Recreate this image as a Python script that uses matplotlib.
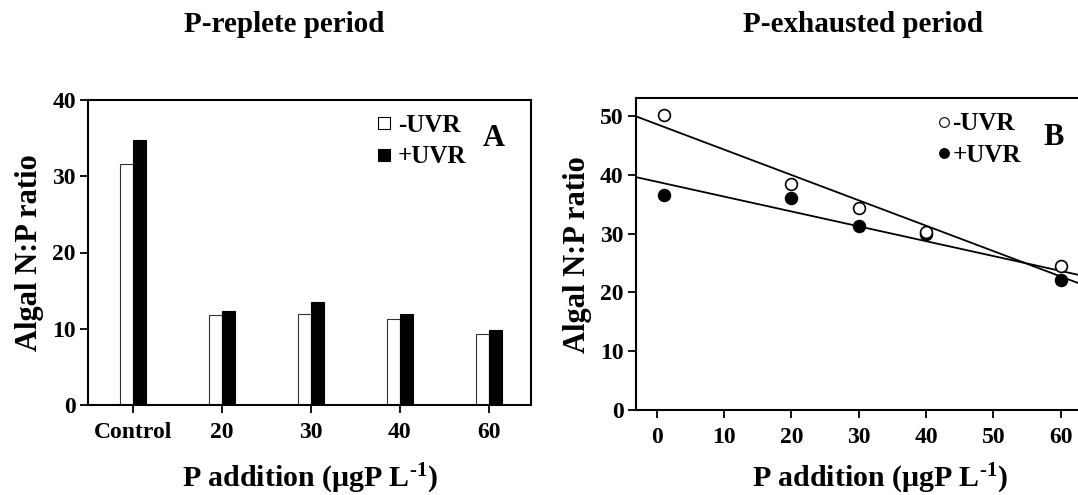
import matplotlib

matplotlib.use("Agg")
import matplotlib.pyplot as plt
import numpy as np
from matplotlib.lines import Line2D

plt.rcParams["font.family"] = ["Liberation Serif", "DejaVu Serif"]
plt.rcParams["font.weight"] = "bold"
plt.rcParams["axes.labelweight"] = "bold"
plt.rcParams["mathtext.fontset"] = "custom"
plt.rcParams["mathtext.rm"] = "Liberation Serif:bold"
plt.rcParams["mathtext.bf"] = "Liberation Serif:bold"
plt.rcParams["mathtext.default"] = "rm"

# panel A: bar chart, P-replete period
categories = ["Control", "20", "30", "40", "60"]
minus_uvr_a = [31.6, 11.8, 11.9, 11.3, 9.3]
plus_uvr_a = [34.8, 12.3, 13.5, 11.9, 9.9]

# panel B: scatter + linear fit, P-exhausted period
p_add = [1, 20, 30, 40, 60]
minus_uvr_b = [50.2, 38.4, 34.4, 30.3, 24.5]
plus_uvr_b = [36.6, 36.0, 31.3, 29.9, 22.1]

W, H = 1078, 495
fig = plt.figure(figsize=(W / 100, H / 100), dpi=100)

xlab = r"P addition (μgP L$^{\text{-}1}$)"
ylab = "Algal N:P ratio"
tick_fs = 17

# ---- A ----
axA = fig.add_axes([88.3 / W, 1 - 405 / H, (531 - 88.3) / W, (405 - 100) / H])
x = np.arange(len(categories))
bw = 0.145
axA.bar(x - bw / 2, minus_uvr_a, bw, color="white", edgecolor="#333333", linewidth=0.8, zorder=2)
axA.bar(x + bw / 2, plus_uvr_a, bw, color="black", edgecolor="black", linewidth=0.8, zorder=2)
axA.set_xlim(-0.5, 4.475)
axA.set_ylim(0, 40)
axA.set_yticks([0, 10, 20, 30, 40])
axA.set_xticks(x)
axA.set_xticklabels(categories)
axA.tick_params(axis="x", direction="out", length=6, width=1.3, labelsize=tick_fs, pad=6)
axA.tick_params(axis="y", direction="out", length=6, width=1.3, labelsize=tick_fs, pad=3)
for s in axA.spines.values():
    s.set_linewidth(1.5)
axA.set_ylabel(ylab, fontsize=22, labelpad=6)
axA.set_xlabel(xlab, fontsize=21.5, labelpad=13.5)
hA = [
    Line2D([], [], marker="s", ls="none", mfc="white", mec="black", mew=0.8, ms=8),
    Line2D([], [], marker="s", ls="none", mfc="black", mec="black", mew=0.8, ms=8),
]
axA.legend(hA, ["-UVR", "+UVR"], loc="upper left", bbox_to_anchor=(0.648, 0.955),
           frameon=False, fontsize=18, handlelength=0.7, handletextpad=0.2,
           labelspacing=0.35, borderpad=0, borderaxespad=0)
axA.text(0.89, 0.85, "A", transform=axA.transAxes, fontsize=22, ha="left", va="baseline")

# ---- B ----
axB = fig.add_axes([636 / W, 1 - 410 / H, (1124 - 636) / W, (410 - 98.3) / H])
xs = np.array([-10, 80])
for yv in (minus_uvr_b, plus_uvr_b):
    k, b = np.polyfit(p_add, yv, 1)
    axB.plot(xs, k * xs + b, color="black", lw=1.3, zorder=2)
axB.plot(p_add, plus_uvr_b, "o", ms=8.5, mfc="black", mec="black", mew=1.2, zorder=3)
axB.plot(p_add, minus_uvr_b, "o", ms=8.5, mfc="white", mec="black", mew=1.2, zorder=4)
axB.set_xlim(-3.1, 69.4)
axB.set_ylim(0, 53)
axB.set_xticks([0, 10, 20, 30, 40, 50, 60])
axB.set_yticks([0, 10, 20, 30, 40, 50])
axB.tick_params(axis="x", direction="out", length=6, width=1.3, labelsize=tick_fs, pad=6)
axB.tick_params(axis="y", direction="out", length=6, width=1.3, labelsize=tick_fs, pad=3)
for s in axB.spines.values():
    s.set_linewidth(1.5)
axB.set_ylabel(ylab, fontsize=22, labelpad=6)
axB.set_xlabel(xlab, fontsize=21.5, labelpad=10.5)
hB = [
    Line2D([], [], marker="o", ls="none", mfc="white", mec="black", mew=0.8, ms=7),
    Line2D([], [], marker="o", ls="none", mfc="black", mec="black", mew=0.8, ms=7),
]
axB.legend(hB, ["-UVR", "+UVR"], loc="upper left", bbox_to_anchor=(0.615, 0.955),
           frameon=False, fontsize=18, handlelength=0.6, handletextpad=0.05,
           labelspacing=0.35, borderpad=0, borderaxespad=0)
axB.text(0.835, 0.85, "B", transform=axB.transAxes, fontsize=22, ha="left", va="baseline")

fig.text(284 / W, 1 - 24 / H, "P-replete period", fontsize=21, ha="center", va="center")
fig.text(863 / W, 1 - 24 / H, "P-exhausted period", fontsize=21, ha="center", va="center")

fig.savefig("out.png", dpi=100)
